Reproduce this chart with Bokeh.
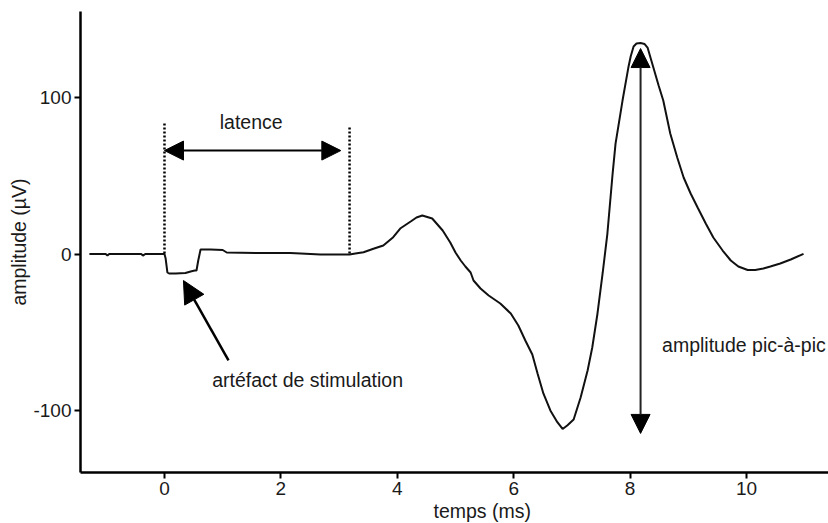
from bokeh.plotting import figure
from bokeh.models import Range1d, Label, Arrow, NormalHead, FixedTicker, PrintfTickFormatter, Title
from bokeh.embed import file_html
from bokeh.resources import INLINE

# Evoked response trace: time (ms) and amplitude (µV)
time_ms = [-1.29, -1.01, -0.98, -0.95, -0.75, -0.40, -0.37, -0.33, 0.00, 0.02, 0.05, 0.08,
           0.19, 0.36, 0.45, 0.52, 0.55, 0.58, 0.62, 0.79, 1.00, 1.07, 1.65, 2.16, 2.34,
           2.68, 3.18, 3.28, 3.42, 3.59, 3.76, 3.93, 4.05, 4.23, 4.33, 4.43, 4.60, 4.78,
           4.91, 5.00, 5.09, 5.17, 5.26, 5.31, 5.43, 5.57, 5.77, 5.95, 6.08, 6.20, 6.32,
           6.41, 6.51, 6.63, 6.75, 6.84, 6.92, 7.03, 7.15, 7.27, 7.35, 7.44, 7.53, 7.61,
           7.70, 7.75, 7.87, 7.97, 8.01, 8.06, 8.11, 8.18, 8.25, 8.30, 8.40, 8.49, 8.57,
           8.69, 8.81, 8.92, 9.04, 9.16, 9.30, 9.43, 9.59, 9.73, 9.86, 10.02, 10.15, 10.29,
           10.41, 10.58, 10.76, 10.98]
amplitude_uv = [0.0, 0.0, -1.0, 0.0, 0.0, 0.0, -1.0, 0.0, 0.0, -2.87, -11.78, -12.42,
                -12.42, -12.10, -11.15, -10.51, -10.51, -4.14, 2.87, 2.87, 2.55, 0.96, 0.64,
                0.64, 0.32, -0.32, -0.32, 0.32, 1.15, 3.31, 5.41, 10.70, 16.24, 20.70, 23.25,
                24.52, 22.61, 14.97, 7.32, 0.96, -4.14, -7.96, -11.78, -16.88, -21.97,
                -26.43, -31.53, -37.90, -45.54, -55.10, -64.01, -76.11, -88.85, -99.68,
                -107.13, -111.46, -109.24, -105.41, -91.40, -74.20, -59.55, -37.90, -11.78,
                13.06, 51.27, 70.38, 97.77, 118.79, 125.80, 132.17, 134.08, 134.39, 133.76,
                131.53, 118.79, 107.32, 97.77, 76.75, 61.46, 48.73, 38.54, 29.62, 19.43,
                10.51, 2.23, -4.14, -7.96, -10.19, -10.19, -9.24, -7.96, -6.05, -3.50, 0.13]

x_ticks = [0, 2, 4, 6, 8, 10]
y_ticks = [-100, 0, 100]

# Stimulus onset and response onset (ms) bounding the latency
stim_onset = 0.0
response_onset = 3.18
latency_arrow_end = 3.03
latency_y = 65.9
marker_top = [83.1, 80.6]

# Peak-to-peak markers
p2p_time = 8.18
p2p_top = 130.9
p2p_bottom = -114.3

FONT = "Liberation Sans"
INK = "#1a1a1a"
TXT = "19.5px"

p = figure(width=828, height=523, output_backend="svg", toolbar_location=None,
           x_range=Range1d(-1.443, 11.409), y_range=Range1d(-139.2, 154.5),
           min_border_left=80, min_border_right=0, min_border_top=11, min_border_bottom=51)
p.outline_line_color = None
p.xgrid.visible = False
p.ygrid.visible = False
p.background_fill_color = "white"
p.border_fill_color = "white"

for ax in (p.xaxis[0], p.yaxis[0]):
    ax.axis_line_width = 2.5
    ax.axis_line_color = "black"
    ax.major_tick_line_width = 2
    ax.major_tick_line_color = "black"
    ax.major_tick_out = 6
    ax.major_tick_in = 0
    ax.minor_tick_line_color = None
    ax.major_label_text_font = FONT
    ax.major_label_text_font_size = "19px"
    ax.major_label_text_color = INK
    ax.major_label_standoff = 3
    ax.formatter = PrintfTickFormatter(format="%d")

p.xaxis.ticker = FixedTicker(ticks=x_ticks)
p.yaxis.ticker = FixedTicker(ticks=y_ticks)
p.yaxis.axis_label = "amplitude (µV)"
p.yaxis.axis_label_text_font = FONT
p.yaxis.axis_label_text_font_size = TXT
p.yaxis.axis_label_text_font_style = "normal"
p.yaxis.axis_label_text_color = INK
p.yaxis.axis_label_standoff = 0

# Horizontal axis title, set a little right of the frame centre
p.add_layout(Title(text="temps (ms)", align="left", offset=353, standoff=0,
                   text_font=FONT, text_font_size=TXT, text_font_style="normal",
                   text_color=INK), "below")

# The trace
p.line(time_ms, amplitude_uv, line_color="#111111", line_width=2)

# Dotted markers at stimulus and response onset
p.segment(x0=[stim_onset, response_onset], y0=marker_top,
          x1=[stim_onset, response_onset], y1=[0, 0],
          line_color="black", line_width=2.5, line_dash="2 2")

# Latency double arrow
p.add_layout(Arrow(x_start=stim_onset, y_start=latency_y, x_end=latency_arrow_end, y_end=latency_y,
                   line_color="black", line_width=2,
                   start=NormalHead(size=19, fill_color="black", line_color="black"),
                   end=NormalHead(size=19, fill_color="black", line_color="black")))
p.add_layout(Label(x=1.49, y=84.4, text="latence", text_align="center", text_baseline="middle",
                   text_font=FONT, text_font_size=TXT, text_color=INK))

# Stimulation artefact pointer
p.add_layout(Arrow(x_start=1.10, y_start=-67.8, x_end=0.326, y_end=-16.9,
                   line_color="black", line_width=2.5,
                   end=NormalHead(size=22, fill_color="black", line_color="black")))
p.add_layout(Label(x=0.82, y=-80.3, text="artéfact de stimulation", text_align="left",
                   text_baseline="middle", text_font=FONT, text_font_size=TXT, text_color=INK))

# Peak-to-peak amplitude double arrow
p.add_layout(Arrow(x_start=p2p_time, y_start=p2p_bottom, x_end=p2p_time, y_end=p2p_top,
                   line_color="#222222", line_width=2,
                   start=NormalHead(size=19, fill_color="black", line_color="black"),
                   end=NormalHead(size=19, fill_color="black", line_color="black")))
p.add_layout(Label(x=8.55, y=-58.0, text="amplitude pic-à-pic", text_align="left",
                   text_baseline="middle", text_font=FONT, text_font_size=TXT, text_color=INK))

open("out.html", "w").write(file_html(p, INLINE))
